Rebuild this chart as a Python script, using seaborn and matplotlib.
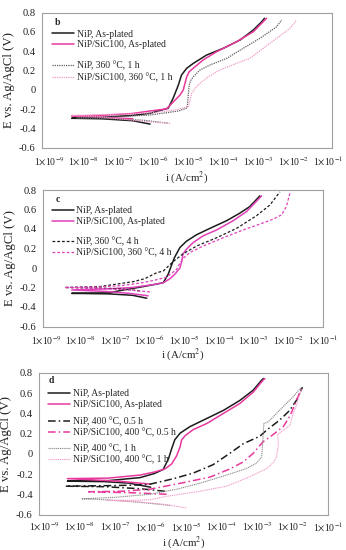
import numpy as np
import pandas as pd
import matplotlib
matplotlib.use("Agg")
import matplotlib.pyplot as plt
import seaborn as sns
from matplotlib.lines import Line2D
from matplotlib.legend import Legend
from matplotlib.font_manager import FontProperties
from matplotlib.ticker import FixedLocator, FuncFormatter, LogLocator, NullFormatter, MultipleLocator

sns.set_style("white")
plt.rcParams['font.family'] = ['Liberation Serif']
plt.rcParams['mathtext.fontset'] = 'stix'
plt.rcParams['axes.unicode_minus'] = False

# ---------------- data (log10 of current density, potential) ----------------
# Panel b
b_nip_ap_logi = [-6.10, -6.6, -7.5, -8.35, -7.5, -6.6, -6.1, -5.58, -5.44, -5.29, -5.20, -5.05, -4.86, -4.48, -4.00, -3.52, -3.14, -2.90, -2.82]
b_nip_ap_E = [-0.355, -0.32, -0.30, -0.295, -0.285, -0.265, -0.243, -0.19, -0.087, 0.05, 0.154, 0.224, 0.275, 0.361, 0.431, 0.517, 0.621, 0.707, 0.742]
b_sic_ap_logi = [-6.6, -7.5, -8.35, -7.5, -6.6, -6.1, -5.63, -5.43, -5.24, -5.15, -5.10, -5.05, -4.98, -4.81, -4.58, -4.19, -3.62, -3.14, -2.81, -2.76]
b_sic_ap_E = [-0.30, -0.285, -0.272, -0.265, -0.245, -0.219, -0.198, -0.123, -0.053, -0.001, 0.068, 0.136, 0.188, 0.24, 0.31, 0.396, 0.499, 0.603, 0.724, 0.742]
b_nip_ht_logi = [-5.6, -6.3, -7.2, -8.2, -7.2, -6.1, -5.3, -5.05, -5.03, -4.98, -4.93, -4.86, -4.67, -4.38, -3.90, -3.43, -2.95, -2.47, -2.33]
b_nip_ht_E = [-0.345, -0.315, -0.30, -0.29, -0.28, -0.261, -0.22, -0.19, -0.157, 0.05, 0.10, 0.136, 0.206, 0.258, 0.327, 0.431, 0.535, 0.655, 0.724]
b_sic_ht_logi = [-5.53, -6.2, -6.87, -7.5, -8.35, -7.2, -6.1, -5.4, -5.0, -4.95, -4.91, -4.77, -4.67, -4.43, -4.10, -3.62, -3.24, -2.855, -2.47, -2.09, -1.90]
b_sic_ht_E = [-0.347, -0.33, -0.305, -0.28, -0.265, -0.255, -0.24, -0.21, -0.175, -0.10, -0.036, 0.033, 0.068, 0.136, 0.206, 0.275, 0.327, 0.431, 0.535, 0.638, 0.724]

# Panel c
c_nip_ap_logi = [-6.09, -6.5, -7.2, -8.26, -7.2, -6.77, -6.29, -5.80, -5.61, -5.47, -5.37, -5.28, -5.13, -4.94, -4.65, -4.26, -3.78, -3.40, -3.11, -2.87, -2.82]
c_nip_ap_E = [-0.31, -0.28, -0.265, -0.26, -0.255, -0.226, -0.197, -0.165, -0.15, -0.064, 0.032, 0.113, 0.21, 0.275, 0.341, 0.407, 0.485, 0.562, 0.63, 0.72, 0.74]
c_sic_ap_logi = [-6.05, -6.6, -7.3, -8.26, -7.3, -6.5, -5.9, -5.6, -5.42, -5.28, -5.13, -5.08, -5.04, -4.94, -4.75, -4.46, -4.07, -3.59, -3.20, -2.82, -2.77]
c_sic_ap_E = [-0.285, -0.26, -0.24, -0.225, -0.215, -0.20, -0.17, -0.15, -0.11, -0.064, 0.0, 0.065, 0.145, 0.193, 0.26, 0.33, 0.39, 0.485, 0.58, 0.72, 0.74]
c_nip_ht_logi = [-6.29, -6.8, -7.5, -8.46, -7.44, -6.48, -6.15, -5.81, -5.61, -5.33, -5.04, -4.65, -4.07, -3.49, -2.92, -2.53, -2.24]
c_nip_ht_E = [-0.235, -0.215, -0.205, -0.20, -0.19, -0.14, -0.11, -0.05, -0.03, 0.065, 0.145, 0.225, 0.31, 0.407, 0.535, 0.645, 0.78]
c_sic_ht_logi = [-6.0, -6.6, -7.4, -8.46, -7.5, -6.8, -6.2, -5.8, -5.52, -5.23, -5.13, -5.04, -4.84, -4.46, -3.88, -3.30, -2.82, -2.44, -2.19, -2.05, -1.95]
c_sic_ht_E = [-0.245, -0.225, -0.21, -0.20, -0.195, -0.18, -0.15, -0.12, -0.095, -0.015, 0.05, 0.097, 0.16, 0.225, 0.31, 0.39, 0.45, 0.50, 0.545, 0.63, 0.765]

# Panel d
d_nip_ap_logi = [-6.0, -6.6, -7.3, -8.35, -7.2, -6.3, -5.9, -5.65, -5.50, -5.41, -5.32, -5.17, -4.89, -4.42, -3.95, -3.48, -3.11, -2.87, -2.82]
d_nip_ap_E = [-0.33, -0.29, -0.275, -0.27, -0.265, -0.235, -0.195, -0.155, -0.05, 0.05, 0.14, 0.205, 0.27, 0.35, 0.43, 0.53, 0.63, 0.73, 0.745]
d_sic_ap_logi = [-6.0, -6.9, -8.35, -7.2, -6.3, -5.9, -5.6, -5.41, -5.27, -5.17, -5.13, -5.03, -4.80, -4.42, -3.95, -3.48, -3.11, -2.83, -2.78]
d_sic_ap_E = [-0.30, -0.27, -0.245, -0.24, -0.21, -0.18, -0.15, -0.10, -0.02, 0.07, 0.135, 0.18, 0.24, 0.30, 0.40, 0.50, 0.61, 0.73, 0.745]
d_nip_h05_logi = [-5.6, -6.3, -7.3, -8.4, -7.3, -6.5, -6.02, -5.36, -4.80, -4.24, -3.77, -3.39, -2.92, -2.73, -2.36, -2.08, -1.89, -1.72]
d_nip_h05_E = [-0.37, -0.345, -0.325, -0.32, -0.315, -0.31, -0.30, -0.246, -0.19, -0.107, 0.005, 0.10, 0.175, 0.235, 0.335, 0.43, 0.53, 0.66]
d_sic_h05_logi = [-5.55, -6.5, -7.75, -6.8, -6.02, -5.08, -4.33, -3.77, -3.39, -3.11, -2.83, -2.55, -2.26, -2.08, -1.98, -1.89, -1.75]
d_sic_h05_E = [-0.40, -0.385, -0.375, -0.37, -0.35, -0.285, -0.23, -0.15, -0.08, 0.005, 0.12, 0.19, 0.27, 0.37, 0.45, 0.53, 0.64]
d_nip_h1_logi = [-5.46, -6.3, -7.2, -7.95, -7.0, -6.02, -5.27, -4.61, -3.86, -3.30, -3.01, -2.87, -2.83, -2.81, -2.69, -2.45, -2.17, -1.98, -1.75]
d_nip_h1_E = [-0.51, -0.48, -0.455, -0.445, -0.43, -0.40, -0.35, -0.29, -0.21, -0.145, -0.09, -0.03, 0.175, 0.30, 0.315, 0.40, 0.50, 0.565, 0.66]
d_sic_h1_logi = [-5.0, -5.6, -6.5, -7.24, -6.6, -6.02, -5.55, -4.61, -3.86, -3.20, -2.73, -2.55, -2.45, -2.40, -2.42, -2.31, -2.08, -1.98, -1.89, -1.75]
d_sic_h1_E = [-0.535, -0.50, -0.47, -0.46, -0.46, -0.455, -0.42, -0.37, -0.32, -0.225, -0.145, -0.09, -0.03, 0.10, 0.19, 0.22, 0.28, 0.40, 0.48, 0.64]

labels_b = ["NiP, As-plated", "NiP/SiC100, As-plated", "NiP, 360 \u00b0C, 1 h", "NiP/SiC100, 360 \u00b0C, 1 h"]
labels_c = ["NiP, As-plated", "NiP/SiC100, As-plated", "NiP, 360 \u00b0C, 4 h", "NiP/SiC100, 360 \u00b0C, 4 h"]
labels_d = ["NiP, As-plated", "NiP/SiC100, As-plated", "NiP, 400 \u00b0C, 0.5 h",
            "NiP/SiC100, 400 \u00b0C, 0.5 h", "NiP, 400 \u00b0C, 1 h", "NiP/SiC100, 400 \u00b0C, 1 h"]
xtick_exps = [-9, -8, -7, -6, -5, -4, -3, -2, -1]
yticks = [-0.6, -0.4, -0.2, 0, 0.2, 0.4, 0.6, 0.8]

# ---------------- styles ----------------
BLACK = "#1c1c1c"
MAG = "#e8399e"
MAG2 = "#e040b8"
LPINK = "#f29ac9"
GRAY = "#606060"
LGRAY = "#8a8a8a"
SERIF = FontProperties(family="Liberation Serif", weight="normal", size=6.9)

W, H = 346, 550
fig = plt.figure(figsize=(W / 100, H / 100), dpi=100)


def make_ax(left, right, top, bottom):
    return fig.add_axes([left / W, 1 - bottom / H, (right - left) / W, (bottom - top) / H])


def frame(ax, xlim, xlabel_y, xpad=3):
    ax.set_xscale("log")
    ax.set_xlim(10 ** xlim[0], 10 ** xlim[1])
    ax.set_ylim(-0.6, 0.8)
    for s in ax.spines.values():
        s.set_color("#a0a0a0")
        s.set_linewidth(0.8)
    ax.xaxis.set_major_locator(FixedLocator([10.0 ** e for e in xtick_exps]))
    ax.xaxis.set_major_formatter(FuncFormatter(lambda v, p: r"1$\times$10$^{%d}$" % int(round(np.log10(v)))))
    ax.xaxis.set_minor_locator(LogLocator(base=10, subs=np.arange(2, 10), numticks=100))
    ax.xaxis.set_minor_formatter(NullFormatter())
    ax.yaxis.set_major_locator(FixedLocator(yticks))
    ax.yaxis.set_major_formatter(FuncFormatter(lambda v, p: "0" if abs(v) < 1e-9 else "%.1f" % v))
    ax.yaxis.set_minor_locator(MultipleLocator(0.05))
    ax.tick_params(axis="both", which="both", direction="out", colors="#909090",
                   labelcolor="#222222", pad=2)
    ax.tick_params(axis="y", labelsize=7.6)
    ax.tick_params(axis="x", labelsize=7.0)
    ax.tick_params(which="major", length=2.5, width=0.6)
    ax.tick_params(which="minor", length=1.5, width=0.5)
    ax.tick_params(axis="x", which="major", pad=xpad)
    ax.set_xlabel(r"i (A/cm$^{2}$)", fontsize=7.8, color="#222222")
    ax.xaxis.set_label_coords(0.5, xlabel_y)
    ax.set_ylabel("E vs. Ag/AgCl (V)", fontsize=9.2, color="#222222", labelpad=3)


def build_frame(curves):
    rows = []
    for name, lg, e in curves:
        for k, (a, b) in enumerate(zip(lg, e)):
            rows.append({"series": name, "order": k, "i": 10.0 ** a, "E": b})
    return pd.DataFrame(rows)


def plot_panel(ax, curves, styles):
    df = build_frame(curves)
    for name, _, _ in curves:
        color, dash, lw = styles[name]
        sub = df[df.series == name]
        sns.lineplot(data=sub, x="i", y="E", sort=False, estimator=None, ax=ax,
                     color=color, lw=lw, legend=False)
        if dash:
            ax.lines[-1].set_dashes(dash)


def legend_block(ax, names, styles, x, y):
    handles = []
    for n in names:
        color, dash, lw = styles[n]
        h = Line2D([0], [0], color=color, lw=lw)
        if dash:
            h.set_dashes(dash)
        handles.append(h)
    leg = Legend(ax, handles, names, loc="upper left", bbox_to_anchor=(x, y), frameon=False,
                 prop=SERIF, handlelength=2.3, handletextpad=0.25, borderpad=0,
                 borderaxespad=0, labelspacing=0.18)
    ax.add_artist(leg)
    return leg


# ---------------- panel b ----------------
ax_b = make_ax(42, 332, 12.7, 147.7)
frame(ax_b, (-9.2, -0.885), -0.16)
styles_b = {
    labels_b[0]: (BLACK, None, 1.1),
    labels_b[1]: (MAG, None, 1.1),
    labels_b[2]: (GRAY, (1, 0.8), 0.9),
    labels_b[3]: (LPINK, (1, 0.8), 0.9),
}
plot_panel(ax_b, [(labels_b[0], b_nip_ap_logi, b_nip_ap_E), (labels_b[1], b_sic_ap_logi, b_sic_ap_E),
                  (labels_b[2], b_nip_ht_logi, b_nip_ht_E), (labels_b[3], b_sic_ht_logi, b_sic_ht_E)], styles_b)
ax_b.text(0.045, 0.93, "b", transform=ax_b.transAxes, fontsize=7, fontweight="bold", va="center", ha="left")
legend_block(ax_b, labels_b[:2], styles_b, 0.035, 0.875)
legend_block(ax_b, labels_b[2:], styles_b, 0.035, 0.64)

# ---------------- panel c ----------------
ax_c = make_ax(42.7, 322.7, 190, 326.5)
frame(ax_c, (-9.1, -1.0), -0.145)
styles_c = {
    labels_c[0]: (BLACK, None, 1.1),
    labels_c[1]: (MAG2, None, 1.1),
    labels_c[2]: (BLACK, (2.2, 1.6), 0.9),
    labels_c[3]: (MAG2, (2.2, 1.6), 0.9),
}
plot_panel(ax_c, [(labels_c[0], c_nip_ap_logi, c_nip_ap_E), (labels_c[1], c_sic_ap_logi, c_sic_ap_E),
                  (labels_c[2], c_nip_ht_logi, c_nip_ht_E), (labels_c[3], c_sic_ht_logi, c_sic_ht_E)], styles_c)
ax_c.text(0.045, 0.93, "c", transform=ax_c.transAxes, fontsize=7, fontweight="bold", va="center", ha="left")
legend_block(ax_c, labels_c[:2], styles_c, 0.032, 0.88)
legend_block(ax_c, labels_c[2:], styles_c, 0.032, 0.655)

# ---------------- panel d ----------------
ax_d = make_ax(39, 328, 373, 514.5)
frame(ax_d, (-9.15, -1.0), -0.14, xpad=2)
styles_d = {
    labels_d[0]: (BLACK, None, 1.1),
    labels_d[1]: (MAG, None, 1.1),
    labels_d[2]: (BLACK, (5, 2, 1, 2), 1.1),
    labels_d[3]: (MAG, (5, 2, 1, 2), 1.1),
    labels_d[4]: (LGRAY, (1, 0.7), 0.8),
    labels_d[5]: (LPINK, (1, 0.7), 0.8),
}
plot_panel(ax_d, [(labels_d[0], d_nip_ap_logi, d_nip_ap_E), (labels_d[1], d_sic_ap_logi, d_sic_ap_E),
                  (labels_d[2], d_nip_h05_logi, d_nip_h05_E), (labels_d[3], d_sic_h05_logi, d_sic_h05_E),
                  (labels_d[4], d_nip_h1_logi, d_nip_h1_E), (labels_d[5], d_sic_h1_logi, d_sic_h1_E)], styles_d)
ax_d.text(0.032, 0.945, "d", transform=ax_d.transAxes, fontsize=7, fontweight="bold", va="center", ha="left")
legend_block(ax_d, labels_d[:2], styles_d, 0.032, 0.885)
legend_block(ax_d, labels_d[2:4], styles_d, 0.032, 0.69)
legend_block(ax_d, labels_d[4:], styles_d, 0.032, 0.50)

fig.savefig("out.png", dpi=100)
